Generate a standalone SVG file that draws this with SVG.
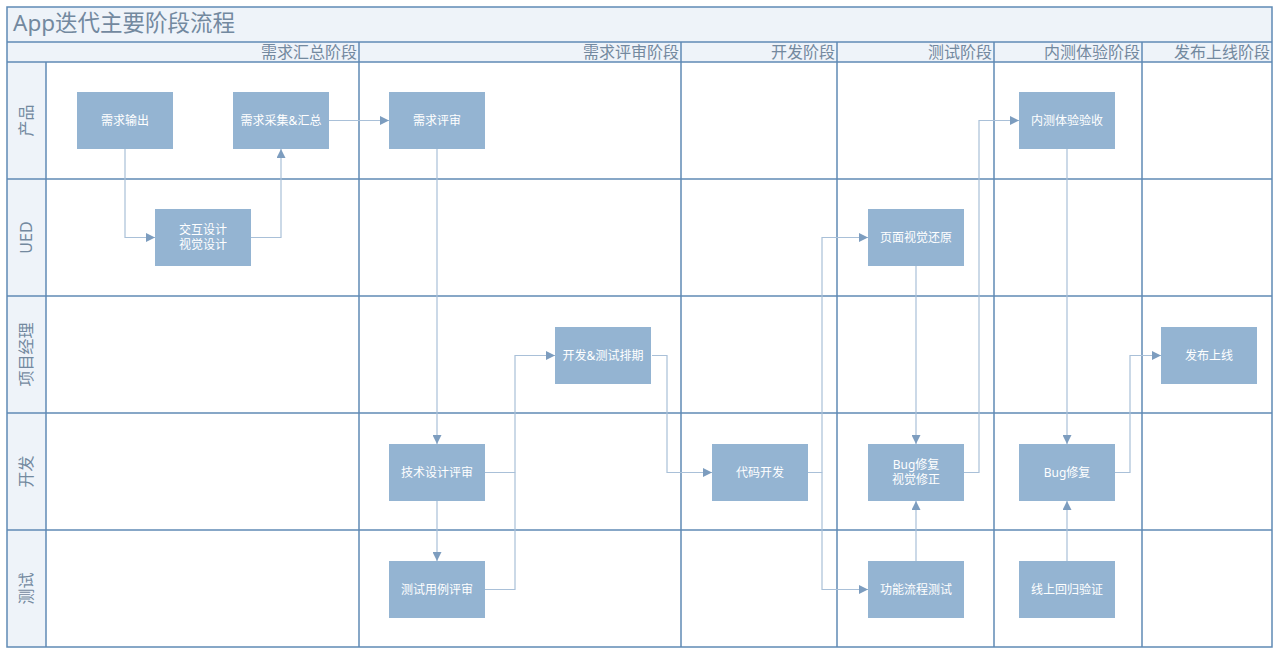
<svg xmlns="http://www.w3.org/2000/svg" width="1280" height="649" viewBox="0 0 1280 649">
<defs>
<marker id="arr" viewBox="0 0 10 10" refX="10" refY="5" markerWidth="9" markerHeight="9" markerUnits="userSpaceOnUse" orient="auto">
<path d="M0,0 L10,5 L0,10 z" fill="#7d9dbf"/>
</marker>
<style>
.grid{stroke:#5f8ab5;stroke-width:1.5;fill:none}
.band{fill:#eef3f9}
.title{font-family:"Noto Sans","Noto Sans CJK SC",sans-serif;font-size:22.5px;fill:#73899f}
.hdr{font-family:"Noto Sans CJK SC",sans-serif;font-size:16px;fill:#73899f;text-anchor:end}
.lane{font-family:"Noto Sans","Noto Sans CJK SC",sans-serif;font-size:16px;fill:#73899f;text-anchor:middle}
.box{fill:#94b4d2}
.lbl{font-family:"Noto Sans","Noto Sans CJK SC",sans-serif;font-size:12px;fill:#ffffff;text-anchor:middle}
.con{stroke:#a9c0d8;stroke-width:1.2;fill:none;marker-end:url(#arr)}
.con2{stroke:#a9c0d8;stroke-width:1.2;fill:none}
</style>
</defs>
<rect x="0" y="0" width="1280" height="649" fill="#ffffff"/>
<g id="frame">
<rect class="band" x="7" y="7" width="1265" height="55"/>
<rect class="band" x="7" y="62" width="39" height="585"/>
<text class="title" x="13" y="31">App迭代主要阶段流程</text>
<rect class="grid" x="7" y="7" width="1265" height="640"/>
<line class="grid" x1="7" y1="42" x2="1272" y2="42"/>
<line class="grid" x1="7" y1="62" x2="1272" y2="62"/>
<line class="grid" x1="7" y1="179" x2="1272" y2="179"/>
<line class="grid" x1="7" y1="296" x2="1272" y2="296"/>
<line class="grid" x1="7" y1="413" x2="1272" y2="413"/>
<line class="grid" x1="7" y1="530" x2="1272" y2="530"/>
<line class="grid" x1="46" y1="62" x2="46" y2="647"/>
<line class="grid" x1="359" y1="42" x2="359" y2="647"/>
<line class="grid" x1="681" y1="42" x2="681" y2="647"/>
<line class="grid" x1="837" y1="42" x2="837" y2="647"/>
<line class="grid" x1="994" y1="42" x2="994" y2="647"/>
<line class="grid" x1="1142" y1="42" x2="1142" y2="647"/>
<text class="hdr" x="357" y="58">需求汇总阶段</text>
<text class="hdr" x="679" y="58">需求评审阶段</text>
<text class="hdr" x="835" y="58">开发阶段</text>
<text class="hdr" x="992" y="58">测试阶段</text>
<text class="hdr" x="1140" y="58">内测体验阶段</text>
<text class="hdr" x="1270" y="58">发布上线阶段</text>
<text class="lane" transform="translate(32,120.5) rotate(-90)">产品</text>
<text class="lane" transform="translate(32,237.5) rotate(-90)">UED</text>
<text class="lane" transform="translate(32,354.5) rotate(-90)">项目经理</text>
<text class="lane" transform="translate(32,471.5) rotate(-90)">开发</text>
<text class="lane" transform="translate(32,588.5) rotate(-90)">测试</text>
</g>
<g id="connectors">
<path class="con" d="M125,149 V237.5 H155"/>
<path class="con" d="M251,237.5 H281 V149"/>
<path class="con" d="M329,120.5 H389"/>
<path class="con" d="M437,149 V444"/>
<path class="con" d="M437,501 V561"/>
<path class="con" d="M485,472.5 H515 V355.5 H555"/>
<path class="con2" d="M485,589.5 H515 V472.5"/>
<path class="con" d="M652,355.5 H667 V472.5 H712"/>
<path class="con" d="M807,472.5 H822 V237.5 H868"/>
<path class="con" d="M822,472.5 V589.5 H868"/>
<path class="con" d="M916,266 V444"/>
<path class="con" d="M916,561 V501"/>
<path class="con" d="M964,472.5 H979 V120.5 H1019"/>
<path class="con" d="M1067,149 V444"/>
<path class="con" d="M1067,561 V501"/>
<path class="con" d="M1115,472.5 H1130 V355.5 H1161"/>
</g>
<g id="n1"><rect class="box" x="77" y="92" width="96" height="57"/><text class="lbl" x="125" y="125">需求输出</text></g>
<g id="n2"><rect class="box" x="233" y="92" width="96" height="57"/><text class="lbl" x="281" y="125">需求采集&amp;汇总</text></g>
<g id="n3"><rect class="box" x="155" y="209" width="96" height="57"/><text class="lbl" x="203" y="234">交互设计</text><text class="lbl" x="203" y="249">视觉设计</text></g>
<g id="n4"><rect class="box" x="389" y="92" width="96" height="57"/><text class="lbl" x="437" y="125">需求评审</text></g>
<g id="n5"><rect class="box" x="555" y="327" width="96" height="57"/><text class="lbl" x="603" y="360">开发&amp;测试排期</text></g>
<g id="n6"><rect class="box" x="389" y="444" width="96" height="57"/><text class="lbl" x="437" y="477">技术设计评审</text></g>
<g id="n7"><rect class="box" x="389" y="561" width="96" height="57"/><text class="lbl" x="437" y="594">测试用例评审</text></g>
<g id="n8"><rect class="box" x="712" y="444" width="96" height="57"/><text class="lbl" x="760" y="477">代码开发</text></g>
<g id="n9"><rect class="box" x="868" y="209" width="96" height="57"/><text class="lbl" x="916" y="242">页面视觉还原</text></g>
<g id="n10"><rect class="box" x="868" y="444" width="96" height="57"/><text class="lbl" x="916" y="469">Bug修复</text><text class="lbl" x="916" y="484">视觉修正</text></g>
<g id="n11"><rect class="box" x="868" y="561" width="96" height="57"/><text class="lbl" x="916" y="594">功能流程测试</text></g>
<g id="n12"><rect class="box" x="1019" y="92" width="96" height="57"/><text class="lbl" x="1067" y="125">内测体验验收</text></g>
<g id="n13"><rect class="box" x="1019" y="444" width="96" height="57"/><text class="lbl" x="1067" y="477">Bug修复</text></g>
<g id="n14"><rect class="box" x="1019" y="561" width="96" height="57"/><text class="lbl" x="1067" y="594">线上回归验证</text></g>
<g id="n15"><rect class="box" x="1161" y="327" width="96" height="57"/><text class="lbl" x="1209" y="360">发布上线</text></g>
</svg>
